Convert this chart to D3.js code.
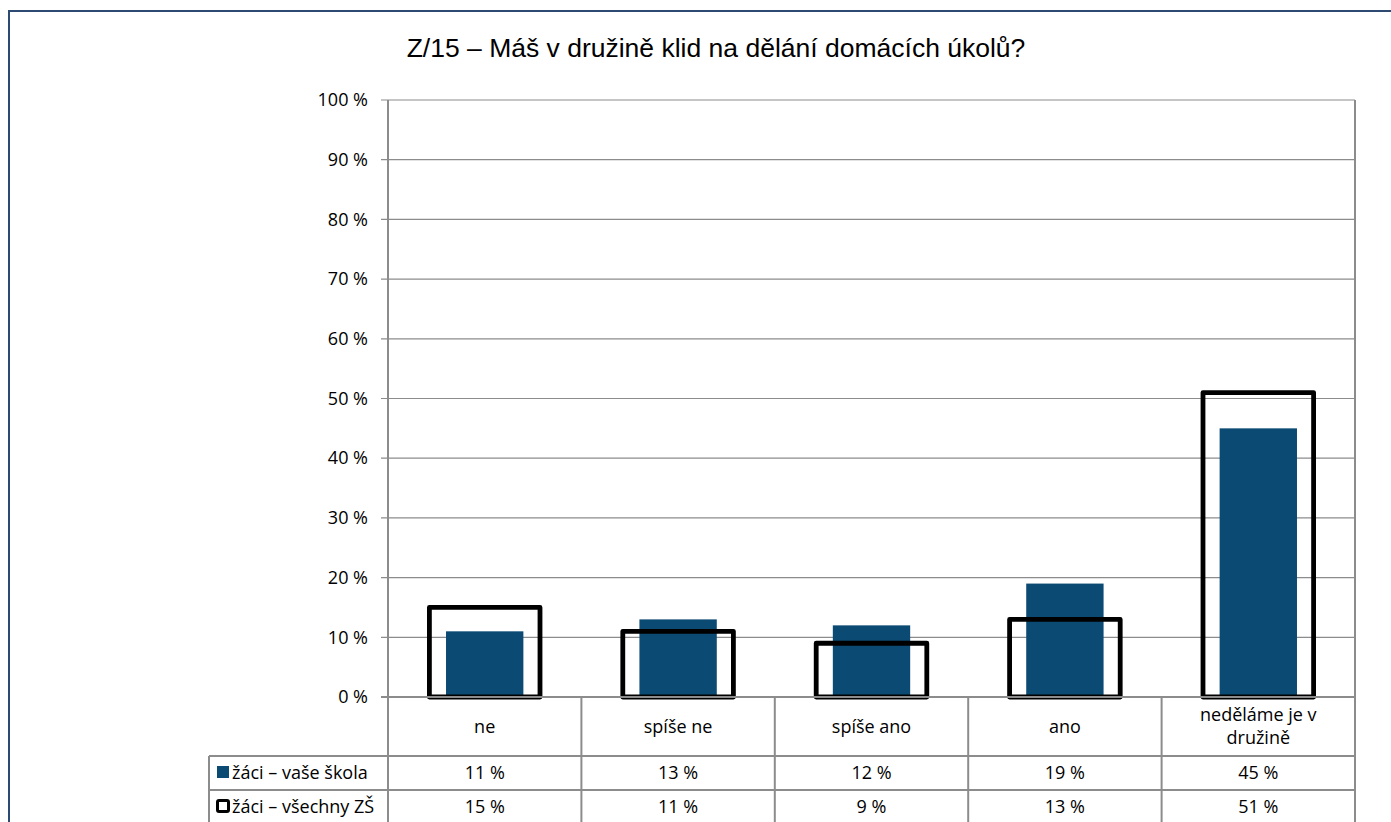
<!DOCTYPE html>
<html><head><meta charset="utf-8">
<script src="https://cdn.jsdelivr.net/npm/d3@7"></script>
<style>
html,body{margin:0;padding:0;background:#fff;overflow:hidden}
text{font-family:"Open Sans",sans-serif}
</style></head>
<body>
<svg id="chart" width="1391" height="822"></svg>
<script>
const title = "Z/15 – Máš v družině klid na dělání domácích úkolů?";
const categories = ["ne", "spíše ne", "spíše ano", "ano", "neděláme je v družině"];
const categoryLines = [["ne"], ["spíše ne"], ["spíše ano"], ["ano"], ["neděláme je v", "družině"]];
const seriesNames = ["žáci – vaše škola", "žáci – všechny ZŠ"];
const schoolValues = [11, 13, 12, 19, 45];
const allValues = [15, 11, 9, 13, 51];
const yTicks = [0, 10, 20, 30, 40, 50, 60, 70, 80, 90, 100];

const svg = d3.select("#chart");
const W = 1391, H = 822;
const plot = {left: 388, right: 1355, top: 100, bottom: 697};
const tableLeft = 209;
const rowTops = [697, 756, 790, 824];
const blue = "#0b4a72";
const grid = "#8c8c8c";
const fs = "18px";

// outer frame
svg.append("rect").attr("x", 9).attr("y", 11).attr("width", W + 20).attr("height", H + 20)
  .attr("fill", "none").attr("stroke", "#2c4a72").attr("stroke-width", 2);

// title
svg.append("text").attr("x", 716).attr("y", 57).attr("text-anchor", "middle")
  .style("font-family", "'Liberation Sans', Arial, sans-serif").style("font-size", "26.5px").attr("fill", "#000")
  .text(title);

const x = d3.scaleBand().domain(categories).range([plot.left, plot.right]).paddingInner(0).paddingOuter(0);
const y = d3.scaleLinear().domain([0, 100]).range([plot.bottom, plot.top]);

// gridlines
svg.append("g").selectAll("line").data(yTicks).join("line")
  .attr("x1", plot.left - 7).attr("x2", plot.right)
  .attr("y1", d => y(d)).attr("y2", d => y(d))
  .attr("stroke", grid).attr("stroke-width", 1.2);

// y axis
const yAxis = d3.axisLeft(y).tickValues(yTicks).tickSize(0).tickPadding(20).tickFormat(d => d + " %");
const ya = svg.append("g").attr("transform", `translate(${plot.left},0)`).call(yAxis);
ya.select(".domain").remove();
ya.selectAll("text").style("font-size", fs).style("font-family", "'Open Sans', sans-serif").attr("fill", "#000");

// right plot border
svg.append("line").attr("x1", plot.right).attr("x2", plot.right).attr("y1", plot.top).attr("y2", rowTops[3])
  .attr("stroke", grid).attr("stroke-width", 2);

// school bars
const bw = x.bandwidth() * 0.40;
svg.append("g").selectAll("rect").data(schoolValues).join("rect")
  .attr("x", (d, i) => x(categories[i]) + x.bandwidth() / 2 - bw / 2)
  .attr("width", bw)
  .attr("y", d => y(d)).attr("height", d => y(0) - y(d))
  .attr("fill", blue);

// all-schools outline bars
const ow = x.bandwidth() * 0.59 - 3.5;
svg.append("g").selectAll("rect").data(allValues).join("rect")
  .attr("x", (d, i) => x(categories[i]) + x.bandwidth() / 2 - ow / 2)
  .attr("width", ow)
  .attr("y", d => y(d)).attr("height", d => y(0) - y(d))
  .attr("fill", "none").attr("stroke", "#000").attr("stroke-width", 4.8)
  .attr("stroke-linejoin", "round");

// table lines
const tg = svg.append("g").attr("stroke", grid).attr("stroke-width", 2);
tg.append("line").attr("x1", plot.left - 7).attr("x2", plot.right).attr("y1", plot.bottom).attr("y2", plot.bottom);
[1, 2].forEach(r => tg.append("line").attr("x1", tableLeft).attr("x2", plot.right)
  .attr("y1", rowTops[r]).attr("y2", rowTops[r]));
tg.append("line").attr("x1", tableLeft).attr("x2", tableLeft).attr("y1", rowTops[1]).attr("y2", rowTops[3]);
tg.append("line").attr("x1", plot.left).attr("x2", plot.left).attr("y1", plot.top).attr("y2", rowTops[3]);
categories.slice(1).forEach(c => tg.append("line").attr("x1", x(c)).attr("x2", x(c))
  .attr("y1", plot.bottom).attr("y2", rowTops[3]));

// category labels
categoryLines.forEach((lines, i) => {
  const cx = x(categories[i]) + x.bandwidth() / 2;
  const mid = (rowTops[0] + rowTops[1]) / 2;
  const lh = 23;
  lines.forEach((ln, j) => {
    svg.append("text").attr("x", cx).attr("y", mid + (j - (lines.length - 1) / 2) * lh + 6)
      .attr("text-anchor", "middle").style("font-size", fs).attr("fill", "#000").text(ln);
  });
});

// value rows
[schoolValues, allValues].forEach((vals, r) => {
  const mid = (rowTops[r + 1] + rowTops[r + 2]) / 2;
  vals.forEach((v, i) => {
    svg.append("text").attr("x", x(categories[i]) + x.bandwidth() / 2).attr("y", mid + 6)
      .attr("text-anchor", "middle").style("font-size", fs).attr("fill", "#000").text(v + " %");
  });
  svg.append("text").attr("x", 232).attr("y", mid + 6).style("font-size", fs).attr("fill", "#000")
    .text(seriesNames[r]);
});
// legend keys
svg.append("rect").attr("x", 217).attr("y", 766).attr("width", 12).attr("height", 12).attr("fill", blue);
svg.append("rect").attr("x", 217.5).attr("y", 800.5).attr("width", 11).attr("height", 11)
  .attr("fill", "#fff").attr("stroke", "#000").attr("stroke-width", 3).attr("rx", 1.5);
</script>
</body></html>
